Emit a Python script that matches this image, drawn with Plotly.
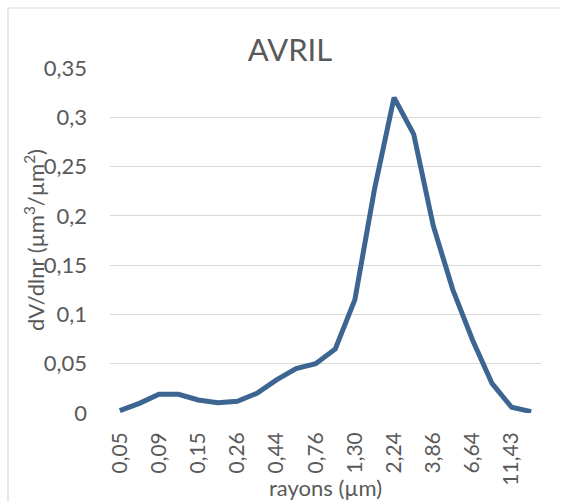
import plotly.graph_objects as go

# Category labels (radii in µm); odd ones are estimated (unlabelled in the reference)
rayons = ["0,05", "0,07", "0,09", "0,12", "0,15", "0,20", "0,26", "0,34",
          "0,44", "0,58", "0,76", "0,99", "1,30", "1,71", "2,24", "2,94",
          "3,86", "5,06", "6,64", "8,71", "11,43", "15,00"]
dvdlnr = [0.0024, 0.0098, 0.019, 0.019, 0.0132, 0.0105, 0.0119, 0.020,
          0.0336, 0.045, 0.050, 0.065, 0.115, 0.227, 0.320, 0.283,
          0.190, 0.125, 0.0743, 0.030, 0.0058, 0.0014]
shown_ticks = rayons[::2]
y_ticks = [0, 0.05, 0.1, 0.15, 0.2, 0.25, 0.3, 0.35]
y_ticktext = ["0", "0,05", "0,1", "0,15", "0,2", "0,25", "0,3", "0,35"]

W, H = 561, 502
L, R, T, B = 110, 541, 68, 413
pw, ph = R - L, B - T

def px_x(x):
    return (x - L) / pw

def px_y(y):
    return (B - y) / ph

FONT = "Lato, 'Open Sans', sans-serif"
GREY = "#595959"

fig = go.Figure()
fig.add_trace(go.Scatter(
    x=rayons, y=dvdlnr, mode="lines",
    line=dict(color="#3C6591", width=5),
    hoverinfo="x+y", showlegend=False,
))

fig.update_layout(
    width=W, height=H,
    margin=dict(l=L, r=W - R, t=T, b=H - B, pad=0),
    paper_bgcolor="white", plot_bgcolor="white",
    separators=", ",
    font=dict(family=FONT, color=GREY, size=20),
    title=dict(text="AVRIL", x=290 / W, xanchor="center",
               y=1 - 50 / H, yanchor="middle", yref="container",
               font=dict(family=FONT, size=31, color=GREY)),
    xaxis=dict(
        type="category", categoryorder="array", categoryarray=rayons,
        range=[-0.5, len(rayons) - 0.5],
        tickmode="array", tickvals=shown_ticks, ticktext=shown_ticks,
        tickangle=-90, showgrid=False, showline=False, zeroline=False,
        ticks="", ticklabelstandoff=14,
        tickfont=dict(family=FONT, size=21, color=GREY),
    ),
    yaxis=dict(
        range=[0, 0.35], tickmode="array", tickvals=y_ticks, ticktext=y_ticktext,
        showgrid=True, gridcolor="#D9D9D9", gridwidth=1.3,
        zeroline=False, showline=False, ticks="", ticklabelstandoff=22,
        tickfont=dict(family=FONT, size=22, color=GREY),
    ),
    shapes=[dict(type="rect", xref="paper", yref="paper",
                 x0=px_x(8), x1=px_x(575), y0=px_y(520), y1=px_y(8),
                 line=dict(color="#D9D9D9", width=1.2), fillcolor="rgba(0,0,0,0)",
                 layer="below")],
    annotations=[
        dict(text="dV/dlnr (µm<sup>3</sup>/µm<sup>2</sup>)", textangle=-90,
             xref="paper", yref="paper", x=px_x(34), y=px_y(240),
             xanchor="center", yanchor="middle", showarrow=False,
             font=dict(family=FONT, size=22, color=GREY)),
        dict(text="rayons (µm)", xref="paper", yref="paper",
             x=px_x(325), y=px_y(487), xanchor="center", yanchor="middle",
             showarrow=False, font=dict(family=FONT, size=22, color=GREY)),
    ],
)

fig.write_html("out.html", config={"displayModeBar": False},
               post_script="document.body.style.margin='0px';"
                           "document.body.style.overflow='hidden';")
